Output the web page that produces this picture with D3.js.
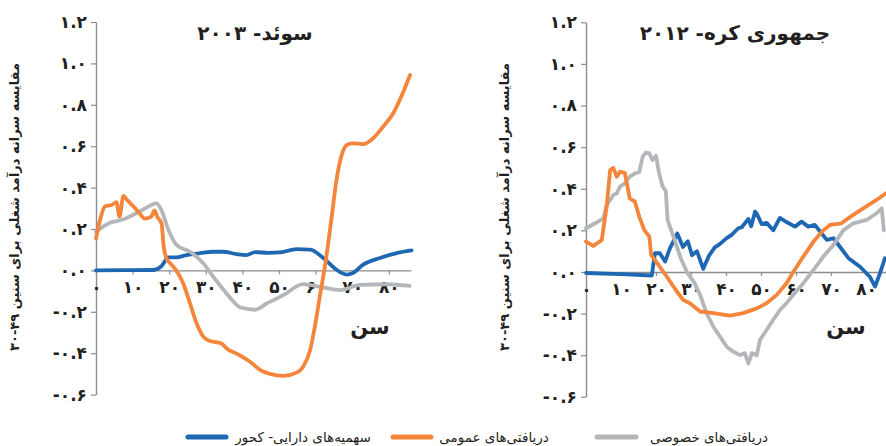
<!DOCTYPE html>
<html><head><meta charset="utf-8">
<script src="https://cdn.jsdelivr.net/npm/d3@7"></script>
<style>
body{margin:0;background:#fff;}
svg{display:block;}
text{font-family:"DejaVu Sans",sans-serif;fill:#231f20;}
</style></head>
<body><svg id="c" width="886" height="446"></svg>
<script>
// ---------- data ----------
const yTicks = [-0.6,-0.4,-0.2,0,0.2,0.4,0.6,0.8,1.0,1.2];
const xTicks = [0,10,20,30,40,50,60,70,80];
const seriesNames = ["سهمیه‌های دارایی- کحور","دریافتی‌های عمومی","دریافتی‌های خصوصی"];
const seriesColors = ["#1e67b2","#f5853b","#b5b6b9"];
const panelTitles = ["سوئد- ۲۰۰۳","جمهوری کره- ۲۰۱۲"];
const yLabel = "مقایسه سرانه درآمد شغلی برای سنین \u202A۳۰-۴۹\u202C";
const xLabel = "سن";

// Sweden 2003 [age, value]
const swedenAsset = [[0,0],[8,0.001],[15.7,0.002],[17.9,0.021],[19.8,0.063],[21.9,0.063],[24.7,0.074],[28.4,0.083],[32,0.09],[34.7,0.09],[38.4,0.079],[41,0.074],[43.5,0.088],[47,0.085],[50.3,0.087],[54.8,0.103],[58.5,0.1],[62.1,0.06],[65.7,0.003],[68.5,-0.02],[70.2,-0.013],[73,0.028],[77.6,0.06],[83,0.087],[86.2,0.097]];
const swedenPublic = [[0,0.155],[1.2,0.25],[2.5,0.31],[4.3,0.316],[5.6,0.33],[6.4,0.26],[7.5,0.36],[8.5,0.34],[10.2,0.31],[11.9,0.276],[13.3,0.25],[15.1,0.26],[16,0.29],[16.7,0.26],[17.9,0.227],[18.5,0.115],[19.2,0.06],[20.5,0.03],[21.9,0],[23.8,-0.062],[25.7,-0.16],[27.5,-0.256],[29.3,-0.32],[31,-0.34],[34.2,-0.352],[35.6,-0.376],[39.3,-0.41],[42,-0.44],[44.8,-0.48],[47.5,-0.5],[51.2,-0.51],[54.8,-0.494],[56.6,-0.465],[58.5,-0.385],[59.8,-0.27],[61.2,-0.12],[62.8,0.05],[64.4,0.26],[65.7,0.437],[67,0.55],[68.5,0.606],[70.2,0.614],[73,0.61],[75.7,0.638],[78.4,0.694],[81.2,0.759],[83.4,0.84],[85.8,0.944]];
const swedenPrivate = [[0,0.187],[3.8,0.23],[7.5,0.247],[11,0.276],[14.3,0.308],[16.5,0.324],[17.9,0.29],[19.8,0.195],[22,0.123],[25.7,0.09],[29.3,0.034],[32,-0.03],[35.6,-0.11],[39.3,-0.178],[41,-0.185],[43.4,-0.19],[46.6,-0.16],[51.2,-0.119],[56.6,-0.066],[61.2,-0.079],[66.7,-0.095],[72.1,-0.07],[79.4,-0.067],[85.7,-0.075]];

// Korea 2012 [age, value]
const koreaAsset = [[0,-0.005],[10,-0.01],[18.8,-0.017],[19.7,0.09],[21.1,0.09],[22.6,0.05],[24,0.115],[26.1,0.185],[27.7,0.12],[29.1,0.148],[30.3,0.08],[31.7,0.1],[33.5,0.015],[35.2,0.08],[36.8,0.118],[38.3,0.135],[40,0.16],[41.6,0.178],[43.5,0.21],[44.5,0.215],[46.4,0.255],[47.2,0.22],[48.3,0.29],[48.8,0.28],[50.2,0.23],[51.6,0.236],[53.5,0.2],[55.4,0.26],[57.3,0.24],[59.7,0.218],[61.6,0.242],[63.5,0.218],[65.4,0.226],[66.9,0.194],[68.8,0.154],[70.7,0.162],[72.6,0.12],[75,0.066],[78.3,0.025],[81.1,-0.023],[82.6,-0.07],[84,-0.006],[85.4,0.066]];
const koreaPublic = [[0,0.146],[2.1,0.125],[4.5,0.154],[5.9,0.314],[6.9,0.49],[7.8,0.5],[8.8,0.458],[9.7,0.482],[11.1,0.475],[12.5,0.354],[14,0.338],[15.2,0.266],[16.7,0.2],[18.1,0.17],[18.6,0.082],[20.7,0.034],[23.1,-0.023],[26,-0.095],[27.8,-0.135],[29.7,-0.15],[32.6,-0.19],[36.4,-0.198],[41.1,-0.21],[44.9,-0.198],[48.8,-0.175],[51.6,-0.15],[54.5,-0.11],[57.3,-0.054],[59.2,0],[62.1,0.074],[65,0.146],[67.8,0.2],[69.7,0.226],[73,0.234],[75.6,0.266],[79.2,0.306],[83,0.346],[85.7,0.378]];
const koreaPrivate = [[0,0.21],[2.6,0.234],[5,0.258],[5.9,0.322],[6.9,0.346],[7.8,0.37],[8.8,0.378],[9.7,0.41],[11.1,0.426],[12.5,0.458],[14,0.474],[15.2,0.48],[16.2,0.554],[17.1,0.574],[18.1,0.57],[19,0.538],[20,0.558],[20.9,0.474],[21.9,0.41],[22.8,0.39],[23.3,0.25],[25,0.17],[27.1,0.065],[29,-0.006],[30.9,-0.05],[32.6,-0.11],[34.5,-0.2],[36.4,-0.263],[38.3,-0.311],[40.2,-0.359],[42.1,-0.383],[44,-0.4],[45.4,-0.39],[46.4,-0.44],[47.4,-0.39],[48.8,-0.4],[49.7,-0.327],[51.6,-0.279],[53.5,-0.23],[55.4,-0.183],[57.3,-0.15],[59.2,-0.11],[62.1,-0.054],[65,0.01],[67.8,0.074],[70.7,0.13],[73.5,0.2],[76.4,0.234],[80.2,0.25],[83,0.282],[84.5,0.306],[85.1,0.2]];

// ---------- drawing ----------
const fa = s => String(s).replace(/[0-9]/g, d => "۰۱۲۳۴۵۶۷۸۹"[+d]);
const svg = d3.select("#c");
svg.append("rect").attr("width",886).attr("height",446).attr("fill","#fff");

const panels = [
  {title: panelTitles[0], series:[swedenAsset, swedenPublic, swedenPrivate], xr:[96,410.8], yr:[394.6,22], curve:d3.curveMonotoneX, titleX:255, labelX:15, sinX:370},
  {title: panelTitles[1], series:[koreaAsset, koreaPublic, koreaPrivate], xr:[586,887], yr:[396.8,22.3], curve:d3.curveLinear, titleX:735, labelX:505, sinX:846}
];

const axisColor = "#8d8d8f";

panels.forEach(p => {
  const x = d3.scaleLinear().domain([0,86]).range(p.xr);
  const y = d3.scaleLinear().domain([-0.6,1.2]).range(p.yr);
  const g = svg.append("g");

  // y axis
  const ya = g.append("g").attr("transform",`translate(${p.xr[0]},0)`)
    .call(d3.axisLeft(y).tickValues(yTicks).tickSize(5).tickSizeOuter(0).tickPadding(4)
      .tickFormat(v => fa(v.toFixed(1))));
  ya.select(".domain").attr("stroke",axisColor).attr("stroke-width",1.4);
  ya.selectAll(".tick line").attr("stroke",axisColor).attr("stroke-width",1.2);
  ya.selectAll(".tick text").attr("font-size",17).attr("font-weight","bold").attr("fill","#231f20").style("font-family","DejaVu Sans");

  // x axis on zero line
  const xa = g.append("g").attr("transform",`translate(0,${y(0)})`)
    .call(d3.axisBottom(x).tickValues(xTicks).tickSize(4).tickSizeOuter(0).tickPadding(7)
      .tickFormat(v => fa(v)));
  xa.select(".domain").attr("stroke",axisColor).attr("stroke-width",1.4);
  xa.selectAll(".tick line").attr("stroke",axisColor).attr("stroke-width",1.2);
  xa.selectAll(".tick text").attr("font-size",17).attr("font-weight","bold").attr("fill","#231f20").style("font-family","DejaVu Sans");

  // lines: blue, gray, orange
  const line = d3.line().x(d => x(d[0])).y(d => y(d[1])).curve(p.curve);
  [0,2,1].forEach(i => {
    g.append("path").datum(p.series[i]).attr("d",line)
      .attr("fill","none").attr("stroke",seriesColors[i]).attr("stroke-width",3.8)
      .attr("stroke-linejoin","round").attr("stroke-linecap","round");
  });
  // title
  g.append("text").attr("x",p.titleX).attr("y",40).attr("text-anchor","middle")
    .attr("direction","rtl").attr("font-size",20).attr("font-weight","bold").text(p.title);
  // y label
  g.append("text").attr("transform",`translate(${p.labelX},207) rotate(-90)`)
    .attr("text-anchor","middle").attr("dominant-baseline","middle").attr("direction","rtl")
    .attr("font-size",13).attr("font-weight","bold").text(yLabel);
  // x label
  g.append("text").attr("x",p.sinX).attr("y",334).attr("text-anchor","middle")
    .attr("direction","rtl").attr("font-size",21).attr("font-weight","bold").text(xLabel);
});

// legend
const legend = [
  {sx:[188,226], tx:303},
  {sx:[393,431], tx:494},
  {sx:[597,636], tx:709}
];
legend.forEach((l,i) => {
  svg.append("line").attr("x1",l.sx[0]).attr("x2",l.sx[1]).attr("y1",437).attr("y2",437)
    .attr("stroke",seriesColors[i]).attr("stroke-width",5).attr("stroke-linecap","round");
  svg.append("text").attr("x",l.tx).attr("y",442).attr("text-anchor","middle").attr("direction","rtl")
    .attr("font-size",13.5).text(seriesNames[i]);
});
</script></body></html>
